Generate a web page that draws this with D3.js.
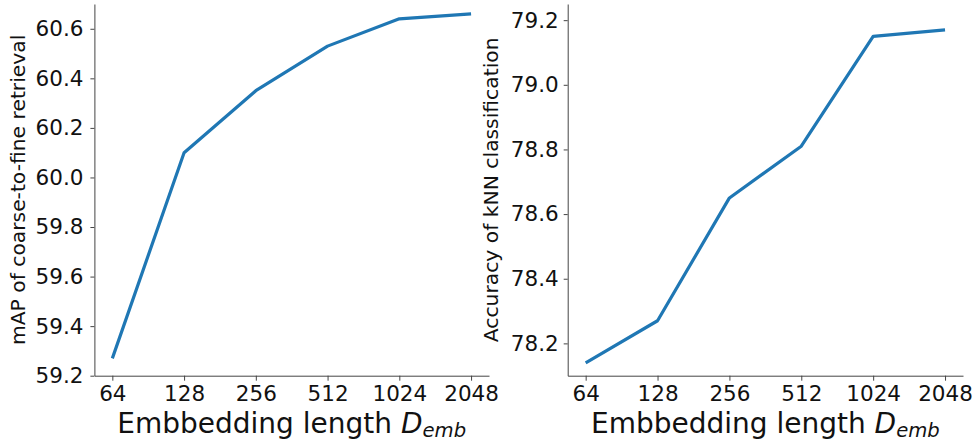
<!DOCTYPE html>
<html>
<head>
<meta charset="utf-8">
<script src="https://cdn.jsdelivr.net/npm/d3@7"></script>
<style>
  body { margin: 0; background: #fff; }
  svg { display: block; font-family: "DejaVu Sans", sans-serif; }
  .tick text { fill: #111; }
</style>
</head>
<body>
<div id="chart-container"></div>
<script>
// embedding lengths on the x axis (shared by both panels)
var dims = ["64", "128", "256", "512", "1024", "2048"];

// left panel: mAP of coarse-to-fine retrieval
var mapValues = [59.27, 60.10, 60.35, 60.53, 60.64, 60.66];
var mapTicks = [59.2, 59.4, 59.6, 59.8, 60.0, 60.2, 60.4, 60.6];

// right panel: accuracy of kNN classification
var knnValues = [78.14, 78.27, 78.65, 78.81, 79.15, 79.17];
var knnTicks = [78.2, 78.4, 78.6, 78.8, 79.0, 79.2];

var width = 975, height = 442;

var svg = d3.select("#chart-container")
    .append("svg")
    .attr("width", width)
    .attr("height", height);

function drawPanel(opts) {
    var x = d3.scalePoint()
        .domain(dims)
        .range([opts.left, opts.right])
        .padding(0.25);
    var y = d3.scaleLinear()
        .domain(opts.yDomain)
        .range([opts.bottom, opts.top]);

    var g = svg.append("g");

    // x axis
    g.append("g")
        .attr("transform", `translate(0,${opts.bottom})`)
        .call(d3.axisBottom(x).tickSize(5).tickSizeOuter(0).tickPadding(5))
        .attr("font-family", "DejaVu Sans")
        .attr("font-size", 21.5);

    // y axis
    g.append("g")
        .attr("transform", `translate(${opts.left},0)`)
        .call(d3.axisLeft(y).tickValues(opts.ticks).tickFormat(d3.format(".1f"))
            .tickSize(4).tickSizeOuter(0).tickPadding(opts.yPad))
        .attr("font-family", "DejaVu Sans")
        .attr("font-size", 21.5);

    g.selectAll(".domain, .tick line").attr("stroke", "#444").attr("stroke-width", 1);

    // the line
    var line = d3.line()
        .x((d, i) => x(dims[i]))
        .y(d => y(d));
    g.append("path")
        .datum(opts.values)
        .attr("fill", "none")
        .attr("stroke", "#1f77b4")
        .attr("stroke-width", 3.2)
        .attr("stroke-linejoin", "round")
        .attr("d", line);

    // x label with mathtext-like D_emb
    var xl = g.append("text")
        .attr("x", (opts.left + opts.right) / 2)
        .attr("y", 432.5)
        .attr("text-anchor", "middle")
        .style("font-size", "28px")
        .attr("fill", "#111");
    xl.append("tspan").text("Embbedding length ");
    xl.append("tspan").style("font-style", "italic").text("D");
    xl.append("tspan").style("font-style", "italic").style("font-size", "19.6px")
        .attr("dy", 4.5).text("emb");

    // y label
    g.append("text")
        .attr("transform", `translate(${opts.labelX},${(opts.top + opts.bottom) / 2}) rotate(-90)`)
        .attr("text-anchor", "middle")
        .style("font-size", "20.3px")
        .attr("fill", "#111")
        .text(opts.label);
}

drawPanel({
    left: 94.4, right: 489, top: 4, bottom: 375.7,
    yDomain: [59.2, 60.7], ticks: mapTicks, values: mapValues,
    yPad: 7, labelX: 25,
    label: "mAP of coarse-to-fine retrieval"
});

drawPanel({
    left: 567.7, right: 963, top: 4, bottom: 375.7,
    yDomain: [78.1, 79.25], ticks: knnTicks, values: knnValues,
    yPad: 5, labelX: 498,
    label: "Accuracy of kNN classification"
});
</script>
</body>
</html>
